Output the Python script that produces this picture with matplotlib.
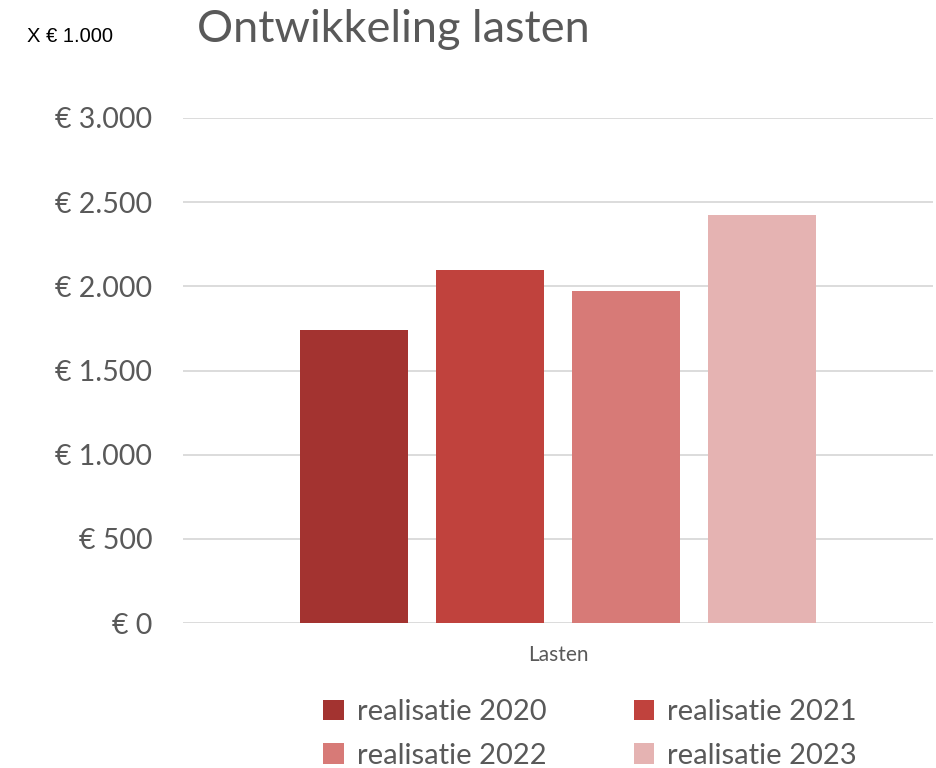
import numpy as np
import matplotlib
matplotlib.use('Agg')
import matplotlib.pyplot as plt
from matplotlib.ticker import FuncFormatter
from matplotlib.patches import Patch

# lasten per jaar, x € 1.000
categories = ["Lasten"]
series = ["realisatie 2020", "realisatie 2021", "realisatie 2022", "realisatie 2023"]
values = [1740, 2096, 1971, 2423]
colors = ["#A33330", "#C0423D", "#D77A77", "#E5B3B2"]

text_grey = "#595959"
plt.rcParams['font.family'] = ['Lato', 'DejaVu Sans']

fig = plt.figure(figsize=(9.36, 7.68), dpi=100)
ax = fig.add_axes([183 / 936, 1 - 623 / 768, 750 / 936, 505 / 768])

width = 0.144
step = 0.1813
offsets = (np.arange(len(series)) - (len(series) - 1) / 2) * step
for off, val, col, name in zip(offsets, values, colors, series):
    ax.bar(0 + off, val, width=width, color=col, label=name, zorder=3)

ax.set_xlim(-0.5, 0.5)
ax.set_ylim(0, 3000)
ax.set_yticks(np.arange(0, 3001, 500))
ax.yaxis.set_major_formatter(FuncFormatter(lambda v, p: "€ " + f"{int(v):,}".replace(",", ".")))
ax.set_xticks([0])
ax.set_xticklabels(categories)

ax.grid(axis='y', color='#D9D9D9', linewidth=1.3, zorder=0)
for s in ax.spines.values():
    s.set_visible(False)
ax.tick_params(axis='both', length=0)
ax.tick_params(axis='y', labelsize=20.5, labelcolor=text_grey, pad=22)
ax.tick_params(axis='x', labelsize=15, labelcolor=text_grey, pad=16)

fig.text(197 / 936, 1 - 30 / 768, "Ontwikkeling lasten", fontsize=32.5, color=text_grey,
         ha='left', va='center')
fig.text(27 / 936, 1 - 37 / 768, "X € 1.000", fontsize=14.5, color='black',
         family='Liberation Sans', ha='left', va='center')

# legend fills column-wise, so order handles to read row by row
handles = [Patch(facecolor=c, label=n) for c, n in zip(colors, series)]
order = [0, 2, 1, 3]
fig.legend(handles=[handles[i] for i in order], ncol=2, loc='center',
           bbox_to_anchor=(590 / 936, 1 - 734 / 768),
           frameon=False, fontsize=21, labelcolor=text_grey, handlelength=0.7, handleheight=0.7,
           handletextpad=0.45, columnspacing=3.0, labelspacing=0.6)

fig.savefig("out.png", dpi=100)
